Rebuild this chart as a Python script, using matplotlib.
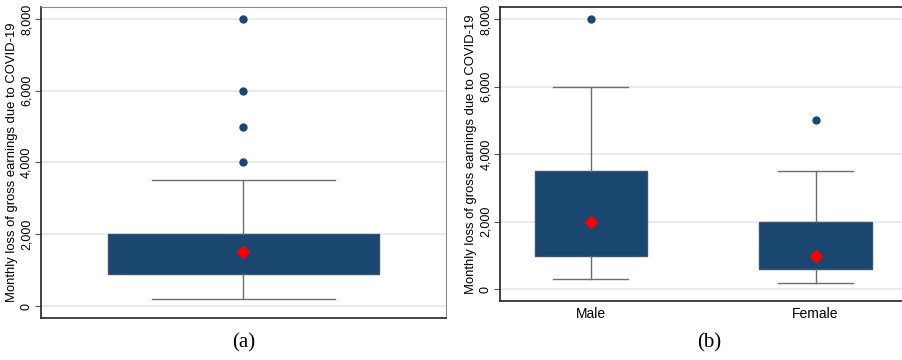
import matplotlib
matplotlib.use('Agg')
import matplotlib.pyplot as plt

plt.rcParams['font.family'] = ['Liberation Sans', 'DejaVu Sans']

navy = '#1a476f'
# panel (a): all respondents
all_stats = dict(q1=900, med=1500, q3=2000, whislo=200, whishi=3500, mean=1500)
all_fliers = [4000, 5000, 6000, 8000]
# panel (b): by gender
groups = ['Male', 'Female']
q1 = [1000, 600]
q3 = [3500, 2000]
whislo = [300, 200]
whishi = [6000, 3500]
means = [2000, 1000]
fliers = [[8000], [5000]]

yticks = [0, 2000, 4000, 6000, 8000]
ylab = 'Monthly loss of gross earnings due to COVID-19'

fig = plt.figure(figsize=(9.03, 3.6), dpi=100)
axa = fig.add_axes([0.0454, 0.1167, 0.4485, 0.8639])
axb = fig.add_axes([0.554, 0.1639, 0.446, 0.8167])

box_kw = dict(patch_artist=True, showmeans=True, showcaps=True,
              boxprops=dict(facecolor=navy, edgecolor='#3d5470', linewidth=1),
              whiskerprops=dict(color='#6e6e6e', linewidth=1),
              capprops=dict(color='#6e6e6e', linewidth=1),
              medianprops=dict(linewidth=0),
              meanprops=dict(marker='D', markerfacecolor='red', markeredgecolor='red', markersize=6),
              flierprops=dict(marker='o', markerfacecolor=navy, markeredgecolor=navy, markersize=5))

sa = dict(all_stats, fliers=all_fliers)
axa.bxp([sa], positions=[1], widths=0.67, capwidths=0.45, **box_kw)
axa.set_xlim(0.5, 1.5)
axa.set_ylim(-334, 8334)
axa.set_xticks([])

stats_b = []
for i in range(len(groups)):
    stats_b.append(dict(q1=q1[i], med=means[i], q3=q3[i], whislo=whislo[i],
                        whishi=whishi[i], mean=means[i], fliers=fliers[i]))
axb.bxp(stats_b, positions=[1, 2], widths=0.5, capwidths=0.334, **box_kw)
axb.set_xlim(0.5975, 2.389)
axb.set_ylim(-346, 8355)
axb.set_xticks([1, 2])
axb.set_xticklabels(groups, fontsize=10)
axb.tick_params(axis='x', length=0, pad=4)

for ax in (axa, axb):
    ax.set_yticks(yticks)
    ax.set_yticklabels(['{:,}'.format(v) for v in yticks], rotation=90, va='center', fontsize=9)
    ax.tick_params(axis='y', length=4, color='#555555', pad=2)
    ax.yaxis.grid(True, color='#e8e8e8', linewidth=1.2)
    ax.set_axisbelow(True)
    ax.set_ylabel(ylab, fontsize=9.4, labelpad=2)
    ax.spines['left'].set_color('#222222')
    ax.spines['bottom'].set_color('#222222')
    ax.spines['left'].set_linewidth(1.2)
    ax.spines['bottom'].set_linewidth(1.2)

axa.spines['top'].set_color('#888888')
axa.spines['right'].set_color('#888888')
axb.spines['top'].set_color('#222222')
axb.spines['top'].set_linewidth(1.2)

fig.text(0.270, 0.047, '(a)', family='Liberation Serif', fontsize=15, ha='center', va='center')
fig.text(0.785, 0.047, '(b)', family='Liberation Serif', fontsize=15, ha='center', va='center')

fig.savefig('out.png', dpi=100)
